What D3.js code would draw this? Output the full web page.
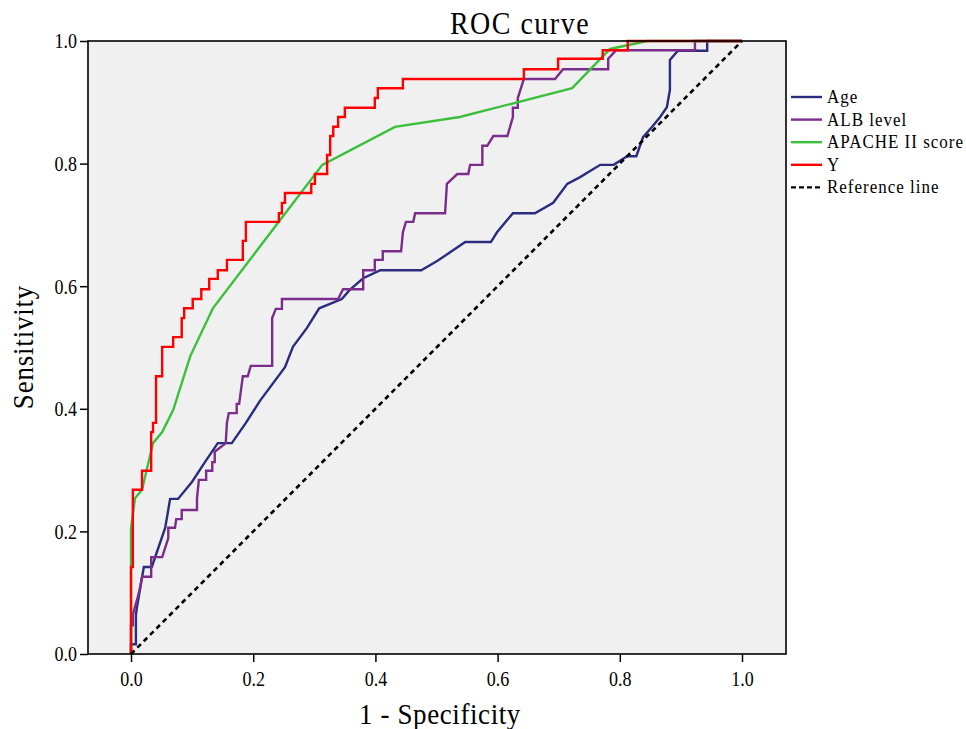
<!DOCTYPE html>
<html lang="en">
<head>
<meta charset="utf-8">
<title>ROC curve</title>
<script src="https://cdn.jsdelivr.net/npm/d3@7"></script>
<style>
  body { margin: 0; background: #fff; }
  text { font-family: "Liberation Serif", "DejaVu Serif", serif; fill: #000; }
</style>
</head>
<body>
<script>
// chart size
var w = 966, h = 729;

// tick values on both axes
var xTicks = [0, 0.2, 0.4, 0.6, 0.8, 1.0];
var yTicks = [0, 0.2, 0.4, 0.6, 0.8, 1.0];

var seriesNames = ["Age", "ALB level", "APACHE II score", "Y", "Reference line"];

// [1 - specificity, sensitivity] vertices
var agePoints = [[0,0],[0,0.016],[0.008,0.016],[0.008,0.064],[0.010,0.078],[0.021,0.142],[0.034,0.142],
  [0.056,0.206],[0.064,0.253],[0.077,0.253],[0.100,0.281],[0.121,0.313],[0.142,0.344],[0.165,0.344],
  [0.188,0.377],[0.211,0.413],[0.252,0.468],[0.265,0.501],[0.288,0.532],[0.308,0.564],[0.345,0.579],
  [0.358,0.594],[0.380,0.613],[0.408,0.626],[0.475,0.626],[0.501,0.641],[0.547,0.672],[0.589,0.672],
  [0.599,0.688],[0.625,0.719],[0.661,0.719],[0.691,0.736],[0.714,0.767],[0.735,0.778],[0.768,0.798],
  [0.790,0.798],[0.812,0.812],[0.827,0.812],[0.838,0.843],[0.853,0.860],[0.866,0.876],[0.877,0.892],
  [0.882,0.920],[0.882,0.969],[0.895,0.984],[0.943,0.984],[0.943,1],[1,1]];

var albPoints = [[0,0],[0,0.047],[0.003,0.047],[0.003,0.064],[0.011,0.093],[0.015,0.109],[0.018,0.126],
  [0.033,0.126],[0.033,0.158],[0.051,0.158],[0.061,0.189],[0.061,0.206],[0.072,0.206],[0.074,0.220],
  [0.083,0.220],[0.083,0.235],[0.108,0.235],[0.108,0.254],[0.111,0.284],[0.123,0.284],[0.123,0.299],
  [0.133,0.299],[0.133,0.313],[0.137,0.313],[0.137,0.330],[0.155,0.344],[0.157,0.377],[0.160,0.393],
  [0.173,0.393],[0.173,0.408],[0.177,0.408],[0.183,0.453],[0.191,0.453],[0.196,0.470],[0.231,0.470],
  [0.231,0.548],[0.237,0.563],[0.247,0.563],[0.247,0.579],[0.339,0.579],[0.347,0.595],[0.380,0.595],
  [0.380,0.626],[0.399,0.626],[0.399,0.643],[0.412,0.643],[0.412,0.657],[0.442,0.657],[0.445,0.688],
  [0.450,0.705],[0.462,0.705],[0.465,0.719],[0.514,0.719],[0.517,0.767],[0.534,0.783],[0.552,0.783],
  [0.555,0.798],[0.575,0.798],[0.575,0.829],[0.583,0.829],[0.593,0.845],[0.616,0.845],[0.625,0.876],
  [0.625,0.891],[0.633,0.891],[0.633,0.907],[0.643,0.938],[0.694,0.938],[0.707,0.954],[0.781,0.954],
  [0.781,0.971],[0.794,0.985],[0.923,0.985],[0.923,1],[1,1]];

var apachePoints = [[0,0],[0,0.205],[0.0065,0.254],[0.018,0.268],[0.036,0.344],[0.051,0.362],
  [0.069,0.398],[0.097,0.486],[0.134,0.564],[0.313,0.798],[0.432,0.860],[0.538,0.876],[0.722,0.923],
  [0.784,0.987],[0.845,1],[1,1]];

// Y is a pure staircase: each point is where the curve steps up
var yPoints = [[0,0],[0,0.142],[0.003,0.268],[0.018,0.299],[0.033,0.362],[0.036,0.377],[0.041,0.453],
  [0.051,0.501],[0.069,0.517],[0.083,0.548],[0.087,0.564],[0.101,0.579],[0.115,0.595],[0.128,0.612],
  [0.142,0.626],[0.157,0.643],[0.183,0.674],[0.188,0.705],[0.242,0.719],[0.247,0.736],[0.252,0.752],
  [0.295,0.767],[0.301,0.783],[0.321,0.814],[0.326,0.845],[0.331,0.860],[0.339,0.876],[0.350,0.891],
  [0.399,0.907],[0.404,0.923],[0.445,0.938],[0.643,0.954],[0.699,0.971],[0.772,0.985],[0.813,1],[1,1]];

var refPoints = [[0,0],[1,1]];

var colors = ["#2b2c7e", "#7b2d8b", "#3cbf3c", "#ff0000", "#000000"];

var svg = d3.select("body").append("svg")
  .attr("width", w)
  .attr("height", h);

var x = d3.scaleLinear().domain([-0.0704, 1.072]).range([88, 786]);
var y = d3.scaleLinear().domain([0, 1]).range([654, 41]);

// plot frame
svg.append("rect")
  .attr("x", x.range()[0]).attr("y", y.range()[1])
  .attr("width", x.range()[1] - x.range()[0])
  .attr("height", y.range()[0] - y.range()[1])
  .attr("fill", "#f0f0f0");

svg.append("clipPath").attr("id", "clip")
  .append("rect")
  .attr("x", x.range()[0]).attr("y", y.range()[1] - 2)
  .attr("width", x.range()[1] - x.range()[0])
  .attr("height", y.range()[0] - y.range()[1] + 4);

var xAxis = svg.append("g")
  .attr("transform", "translate(0," + y(0) + ")")
  .call(d3.axisBottom(x).tickValues(xTicks).tickSize(8).tickPadding(6).tickFormat(d3.format(".1f")));
var yAxis = svg.append("g")
  .attr("transform", "translate(" + x.range()[0] + ",0)")
  .call(d3.axisLeft(y).tickValues(yTicks).tickSize(8).tickPadding(3).tickFormat(d3.format(".1f")));

// tall, narrow digits like the original: stretch the labels vertically
[xAxis, yAxis].forEach(function(a) {
  a.select(".domain").remove();
  a.selectAll(".tick line").attr("stroke", "#000").attr("stroke-width", 1.5);
  a.selectAll(".tick text")
    .attr("font-family", "Liberation Serif")
    .attr("font-size", 18)
    .attr("fill", "#000")
    .attr("transform", "scale(1,1.2)");
});

var lineLinear = d3.line().x(function(d) { return x(d[0]); }).y(function(d) { return y(d[1]); });
var lineStep = d3.line().x(function(d) { return x(d[0]); }).y(function(d) { return y(d[1]); })
  .curve(d3.curveStepAfter);

var curves = svg.append("g").attr("clip-path", "url(#clip)");
var allSeries = [agePoints, albPoints, apachePoints, yPoints, refPoints];

allSeries.forEach(function(pts, i) {
  var p = curves.append("path")
    .attr("d", i === 3 ? lineStep(pts) : lineLinear(pts))
    .attr("fill", "none")
    .attr("stroke", colors[i])
    .attr("stroke-width", i === 4 ? 2.6 : 2.4)
    .attr("stroke-linejoin", "miter");
  if (i === 4) p.attr("stroke-dasharray", "5,4");
});

// frame on top
svg.append("rect")
  .attr("x", x.range()[0]).attr("y", y.range()[1])
  .attr("width", x.range()[1] - x.range()[0])
  .attr("height", y.range()[0] - y.range()[1])
  .attr("fill", "none")
  .attr("stroke", "#000")
  .attr("stroke-width", 1.6);

// titles
svg.append("text")
  .attr("transform", "translate(520,34) scale(1,1.1)")
  .attr("text-anchor", "middle")
  .attr("font-size", 28)
  .attr("letter-spacing", 1.5)
  .text("ROC curve");

svg.append("text")
  .attr("transform", "translate(440,724) scale(1,1.1)")
  .attr("text-anchor", "middle")
  .attr("font-size", 27)
  .attr("letter-spacing", 0.6)
  .text("1 - Specificity");

svg.append("text")
  .attr("transform", "translate(33,347) rotate(-90) scale(1,1.1)")
  .attr("text-anchor", "middle")
  .attr("font-size", 27)
  .attr("letter-spacing", 0.8)
  .text("Sensitivity");

// legend
var legend = svg.append("g");
seriesNames.forEach(function(name, i) {
  var ly = 97 + i * 22.6;
  var ln = legend.append("line")
    .attr("x1", 791).attr("x2", 822)
    .attr("y1", ly).attr("y2", ly)
    .attr("stroke", colors[i])
    .attr("stroke-width", 2.4);
  if (i === 4) ln.attr("stroke-dasharray", "5,3");
  legend.append("text")
    .attr("transform", "translate(827," + (ly + 6) + ") scale(1,1.15)")
    .attr("font-size", 17)
    .attr("letter-spacing", 1)
    .text(name);
});
</script>
</body>
</html>
